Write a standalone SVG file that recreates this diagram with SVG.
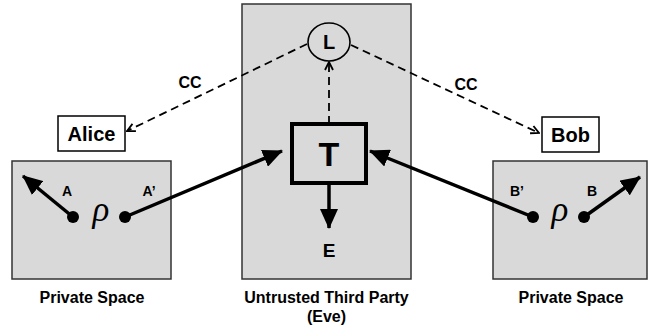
<svg xmlns="http://www.w3.org/2000/svg" width="650" height="328" viewBox="0 0 650 328">
<defs>
<style>
.zone{fill:#d9d9d9;stroke:#333;stroke-width:1.5}
.lbl{fill:#fff;stroke:#000;stroke-width:1.5}
.t{font-family:"Liberation Sans",Arial,sans-serif;font-weight:bold;fill:#000;text-anchor:middle}
.rho{font-family:"Liberation Serif","Times New Roman",serif;font-style:italic;font-size:35px;fill:#000;text-anchor:middle}
.solid{stroke:#000;stroke-width:3.5;fill:none}
.dash{stroke:#000;stroke-width:1.8;fill:none;stroke-dasharray:8,5}
</style>
<marker id="fill" markerUnits="userSpaceOnUse" viewBox="0 0 20 18" markerWidth="20" markerHeight="18" refX="19" refY="9" orient="auto">
<path d="M0,0 L20,9 L0,18 z" fill="#000"/>
</marker>
<marker id="open" markerUnits="userSpaceOnUse" viewBox="0 0 10 10" markerWidth="10" markerHeight="10" refX="9" refY="5" orient="auto">
<path d="M1,1 L9,5 L1,9" fill="none" stroke="#000" stroke-width="1.8"/>
</marker>
</defs>

<g id="alice-space">
<rect class="zone" x="12" y="161" width="159" height="118"/>
<text class="t" x="92" y="303" font-size="16">Private Space</text>
</g>
<g id="eve-space">
<rect class="zone" x="242" y="4" width="169" height="275"/>
<text class="t" x="326.5" y="303" font-size="16">Untrusted Third Party</text>
<text class="t" x="326.5" y="322" font-size="16">(Eve)</text>
</g>
<g id="bob-space">
<rect class="zone" x="493" y="161" width="154" height="118"/>
<text class="t" x="571" y="303" font-size="16">Private Space</text>
</g>

<g id="alice">
<rect class="lbl" x="58" y="116" width="67" height="35"/>
<text class="t" x="91.5" y="141" font-size="20">Alice</text>
</g>
<g id="bob">
<rect class="lbl" x="542" y="117" width="57" height="35"/>
<text class="t" x="570.5" y="142" font-size="20">Bob</text>
</g>

<g id="L">
<ellipse cx="329" cy="42" rx="21" ry="19" fill="none" stroke="#000" stroke-width="1.6"/>
<text class="t" x="329" y="49" font-size="20">L</text>
</g>
<g id="T">
<rect x="292" y="124" width="74" height="59" fill="#d9d9d9" stroke="#000" stroke-width="4"/>
<text class="t" x="329" y="166" font-size="34">T</text>
</g>
<g id="E">
<text class="t" x="329" y="257" font-size="19">E</text>
</g>

<g id="alice-state">
<circle cx="73" cy="217" r="6"/>
<circle cx="125" cy="217" r="6"/>
<text class="rho" x="101" y="221">ρ</text>
<text class="t" x="67" y="196" font-size="14">A</text>
<text class="t" x="149" y="196" font-size="14">A’</text>
</g>
<g id="bob-state">
<circle cx="533" cy="217" r="6"/>
<circle cx="584" cy="217" r="6"/>
<text class="rho" x="560" y="221">ρ</text>
<text class="t" x="517" y="196" font-size="14">B’</text>
<text class="t" x="592" y="196" font-size="14">B</text>
</g>

<g id="connectors">
<line class="solid" x1="73" y1="217" x2="23" y2="176" marker-end="url(#fill)"/>
<line class="solid" x1="125" y1="217" x2="282" y2="151" marker-end="url(#fill)"/>
<line class="solid" x1="533" y1="217" x2="370" y2="151" marker-end="url(#fill)"/>
<line class="solid" x1="584" y1="217" x2="640" y2="177" marker-end="url(#fill)"/>
<line class="solid" x1="329" y1="183" x2="329" y2="228" marker-end="url(#fill)"/>
<line class="dash" x1="329" y1="124" x2="329" y2="62" marker-end="url(#open)"/>
<line class="dash" x1="307" y1="44" x2="127" y2="131" marker-end="url(#open)"/>
<line class="dash" x1="351" y1="45" x2="539" y2="133" marker-end="url(#open)"/>
<text class="t" x="190" y="88" font-size="16">CC</text>
<text class="t" x="466" y="90" font-size="16">CC</text>
</g>
</svg>
